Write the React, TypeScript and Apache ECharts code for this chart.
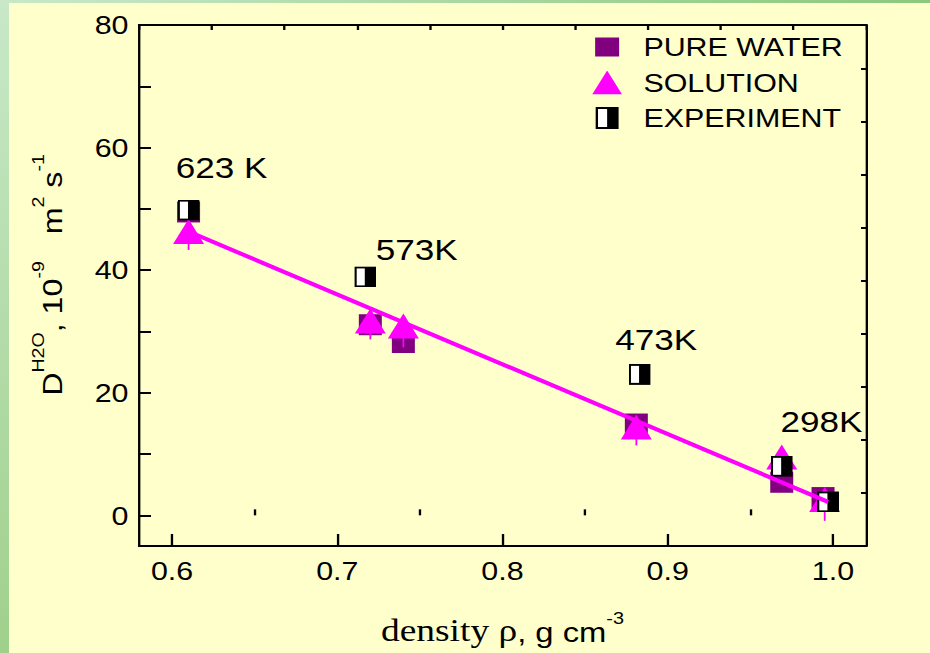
import React, { useEffect, useRef } from 'react';
import * as echarts from 'echarts';

// Horizontal stretch applied to the whole chart (wide-type look of the lettering)
const CHART_W = 795;
const CHART_H = 653;
const S = 930 / CHART_W;

const FONT = 'Liberation Sans, Arial, Helvetica, sans-serif';
const SERIF = 'Liberation Serif, Times New Roman, serif';

// Density (g/cm3) and self-diffusion coefficient (1e-9 m2/s)
const PURE_X = [0.61, 0.72, 0.74, 0.881, 0.969, 0.994];
const PURE_Y = [49.5, 31.1, 28.2, 14.9, 5.4, 2.9];

const SOL_X = [0.61, 0.72, 0.74, 0.881, 0.969, 0.995];
const SOL_Y = [46.3, 31.7, 30.9, 14.4, 9.5, 2.6];
const SOL_ERR = [3, 3, 3.5, 3, 2, 3.5];

const EXP_X = [0.61, 0.717, 0.883, 0.969, 0.997];
const EXP_Y = [49.8, 38.9, 23.0, 8.0, 2.2];

// Linear fit through the solution points
const FIT_X = [0.61, 0.997];
const FIT_Y = [46.3, 2.2];

// Temperature annotations
const TEMP_LABELS = ['623 K', '573K', '473K', '298K'];
const TEMP_X = [0.63, 0.748, 0.893, 0.993];
const TEMP_Y = [56.8, 43.4, 28.7, 15.3];

const X_MAJOR = [0.6, 0.7, 0.8, 0.9, 1.0];
const X_MINOR = [0.65, 0.75, 0.85, 0.95];
const Y_MAJOR = [0, 20, 40, 60, 80];
const Y_TICKS = [0, 10, 20, 30, 40, 50, 60, 70, 80];

const svgUri = (svg: string) => 'image://data:image/svg+xml;charset=utf-8,' + encodeURIComponent(svg);

const EXP_SYMBOL = svgUri(
  "<svg xmlns='http://www.w3.org/2000/svg' width='19' height='21' viewBox='0 0 19 21' preserveAspectRatio='none'>" +
    "<rect x='1' y='1' width='17' height='19' fill='#ffffff' stroke='#000000' stroke-width='2'/>" +
    "<rect x='9' y='1' width='9' height='19' fill='#000000'/></svg>"
);
const LEG_PURE = svgUri(
  "<svg xmlns='http://www.w3.org/2000/svg' width='26' height='24' viewBox='0 0 26 24'>" +
    "<rect x='2.75' y='2.5' width='20.5' height='19' fill='#800080'/></svg>"
);
const LEG_SOL = svgUri(
  "<svg xmlns='http://www.w3.org/2000/svg' width='26' height='24' viewBox='0 0 26 24'>" +
    "<polygon points='0.2,24 25.8,24 13,0' fill='#FF00FF'/></svg>"
);
const LEG_EXP = svgUri(
  "<svg xmlns='http://www.w3.org/2000/svg' width='26' height='24' viewBox='0 0 26 24'>" +
    "<rect x='4.2' y='2' width='17.6' height='20' fill='#ffffff' stroke='#000000' stroke-width='2'/>" +
    "<rect x='13' y='2' width='8.8' height='20' fill='#000000'/></svg>"
);

const axisLineStyle = { color: '#000', width: 2 };

function buildOption(): any {
  return {
    animation: false,
    backgroundColor: 'transparent',
    grid: { left: 139 / S, right: CHART_W - 866 / S, top: 25, bottom: 107 },
    legend: {
      left: 501,
      top: 29,
      orient: 'vertical',
      itemWidth: 26,
      itemHeight: 24,
      itemGap: 9.5,
      selectedMode: false,
      textStyle: { fontFamily: FONT, fontSize: 26, color: '#000', lineHeight: 24, padding: [0, 0, 0, 13] },
      data: [
        { name: 'PURE WATER', icon: LEG_PURE },
        { name: 'SOLUTION', icon: LEG_SOL },
        { name: 'EXPERIMENT', icon: LEG_EXP },
      ],
    },
    xAxis: [
      {
        type: 'value',
        min: 0.58,
        max: 1.02,
        position: 'bottom',
        axisLine: { show: true, onZero: false, lineStyle: axisLineStyle },
        axisTick: { show: true, inside: true, length: 12, customValues: X_MAJOR, lineStyle: axisLineStyle },
        axisLabel: {
          customValues: X_MAJOR,
          formatter: (v: number) => v.toFixed(1),
          fontFamily: FONT,
          fontSize: 26,
          color: '#000',
          margin: 12,
        },
        splitLine: { show: false },
        name: '{n|density ρ}{a|, g cm}{s|-3}',
        nameLocation: 'middle',
        nameGap: 64,
        nameTextStyle: {
          rich: {
            n: { fontFamily: SERIF, fontSize: 32, color: '#000', lineHeight: 36, verticalAlign: 'bottom' },
            a: { fontFamily: FONT, fontSize: 28, color: '#000', lineHeight: 34, verticalAlign: 'bottom' },
            s: { fontFamily: FONT, fontSize: 17, color: '#000', lineHeight: 19, verticalAlign: 'top' },
          },
        },
      },
      {
        type: 'value',
        min: 0.58,
        max: 1.02,
        position: 'bottom',
        axisLine: { show: false },
        axisTick: { show: true, inside: true, length: 6, customValues: X_MINOR, lineStyle: axisLineStyle },
        axisLabel: { show: false },
        splitLine: { show: false },
      },
      {
        type: 'value',
        min: 0,
        max: 10,
        interval: 1,
        position: 'top',
        axisLine: { show: true, onZero: false, lineStyle: axisLineStyle },
        axisTick: { show: true, inside: true, length: 5, lineStyle: axisLineStyle },
        axisLabel: { show: false },
        splitLine: { show: false },
      },
    ],
    yAxis: [
      {
        type: 'value',
        min: -5,
        max: 80,
        position: 'left',
        axisLine: { show: true, onZero: false, lineStyle: axisLineStyle },
        axisTick: { show: true, inside: true, length: 12 / S, customValues: Y_TICKS, lineStyle: axisLineStyle },
        axisLabel: { customValues: Y_MAJOR, fontFamily: FONT, fontSize: 26, color: '#000', margin: 9 },
        splitLine: { show: false },
      },
      {
        type: 'value',
        min: 0,
        max: 9.83,
        interval: 1,
        position: 'right',
        axisLine: { show: true, onZero: false, lineStyle: axisLineStyle },
        axisTick: { show: true, inside: true, length: 5 / S, lineStyle: axisLineStyle },
        axisLabel: { show: false },
        splitLine: { show: false },
      },
    ],
    graphic: [
      {
        type: 'text',
        x: 41,
        y: 275,
        rotation: Math.PI / 2,
        scaleX: 1.4,
        silent: true,
        style: {
          text: '{m|D}{s|H2O}{m|, 10}{s|-9}{m|   m}{s|2}{m| s}{s|-1}',
          fill: '#000',
          align: 'center',
          verticalAlign: 'middle',
          rich: {
            m: { fontFamily: FONT, fontSize: 23, fill: '#000', lineHeight: 30, verticalAlign: 'bottom' },
            s: { fontFamily: FONT, fontSize: 14, fill: '#000', lineHeight: 14, verticalAlign: 'top' },
          },
        },
      },
    ],
    series: [
      {
        name: 'PURE WATER',
        type: 'scatter',
        xAxisIndex: 0,
        yAxisIndex: 0,
        symbol: 'rect',
        symbolSize: [23 / S, 21],
        itemStyle: { color: '#800080', opacity: 1 },
        data: PURE_X.map((x, i) => [x, PURE_Y[i]]),
        z: 2,
      },
      {
        name: 'solution-error',
        type: 'custom',
        xAxisIndex: 0,
        yAxisIndex: 0,
        silent: true,
        data: SOL_X.map((x, i) => [x, SOL_Y[i], SOL_ERR[i]]),
        renderItem: (_params: any, api: any) => {
          const x = api.value(0);
          const y = api.value(1);
          const e = api.value(2);
          const lo = api.coord([x, y - e]);
          const mid = api.coord([x, y]);
          return {
            type: 'line',
            shape: { x1: lo[0], y1: lo[1], x2: mid[0], y2: mid[1] },
            style: { stroke: '#FF00FF', lineWidth: 1.5 },
          };
        },
        z: 3,
      },
      {
        name: 'SOLUTION',
        type: 'scatter',
        xAxisIndex: 0,
        yAxisIndex: 0,
        symbol: 'triangle',
        symbolSize: [31 / S, 25],
        itemStyle: { color: '#FF00FF', opacity: 1 },
        data: SOL_X.map((x, i) => [x, SOL_Y[i]]),
        z: 4,
      },
      {
        name: 'EXPERIMENT',
        type: 'scatter',
        xAxisIndex: 0,
        yAxisIndex: 0,
        symbol: EXP_SYMBOL,
        symbolSize: [22 / S, 21],
        itemStyle: { color: '#000', opacity: 1 },
        data: EXP_X.map((x, i) => [x, EXP_Y[i]]),
        z: 5,
      },
      {
        name: 'fit',
        type: 'line',
        xAxisIndex: 0,
        yAxisIndex: 0,
        symbol: 'none',
        showSymbol: false,
        lineStyle: { color: '#FF00FF', width: 4, opacity: 1 },
        data: FIT_X.map((x, i) => [x, FIT_Y[i]]),
        silent: true,
        z: 6,
      },
      {
        name: 'temperatures',
        type: 'scatter',
        xAxisIndex: 0,
        yAxisIndex: 0,
        symbolSize: 1,
        itemStyle: { color: 'transparent', opacity: 1 },
        silent: true,
        label: {
          show: true,
          position: 'inside',
          fontFamily: FONT,
          fontSize: 30,
          color: '#000',
          opacity: 1,
        },
        data: TEMP_X.map((x, i) => ({
          value: [x, TEMP_Y[i]],
          label: { formatter: TEMP_LABELS[i] },
        })),
        z: 7,
      },
    ],
  };
}

export default function App() {
  const ref = useRef<HTMLDivElement>(null);

  useEffect(() => {
    document.body.style.margin = '0';
    if (!ref.current) return;
    const chart = echarts.init(ref.current, null, { renderer: 'svg' });
    chart.setOption(buildOption());
    return () => {
      chart.dispose();
    };
  }, []);

  return (
    <div
      style={{
        position: 'fixed',
        left: 0,
        top: 0,
        width: 930,
        height: 653,
        background: '#FFFFCC',
        overflow: 'hidden',
      }}
    >
      <div
        style={{
          position: 'absolute',
          left: 0,
          top: 0,
          width: 930,
          height: 3,
          background: 'linear-gradient(to right, #C8E8C8, #8CC87C)',
        }}
      />
      <div
        style={{
          position: 'absolute',
          left: 0,
          top: 0,
          width: 9,
          height: 653,
          background: 'linear-gradient(to bottom, #C8E8C8, #A0D08C)',
        }}
      />
      <div
        ref={ref}
        style={{
          position: 'absolute',
          left: 0,
          top: 0,
          width: CHART_W,
          height: CHART_H,
          transform: `scaleX(${S})`,
          transformOrigin: '0 0',
        }}
      />
    </div>
  );
}
